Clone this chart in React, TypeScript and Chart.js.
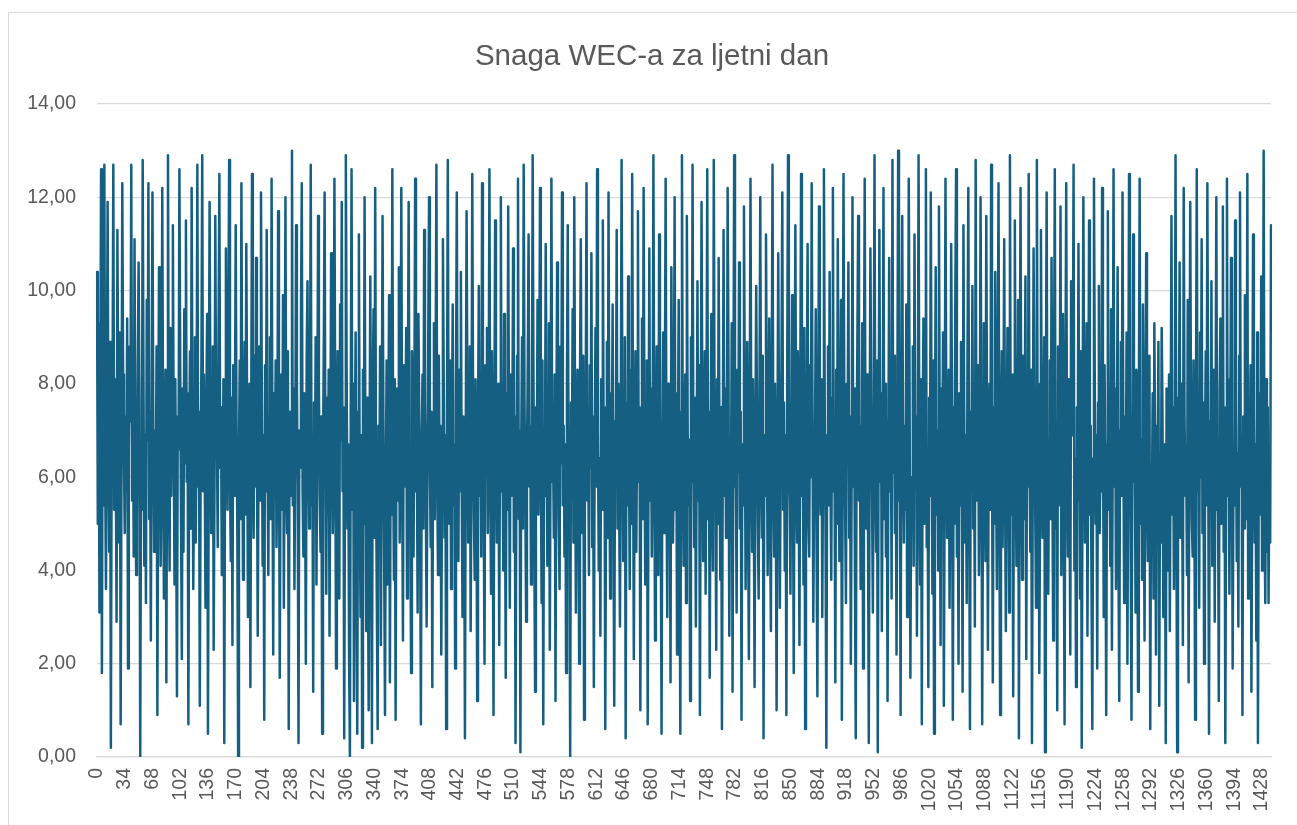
import React, { useEffect, useRef } from "react";
import { Chart, registerables } from "chart.js";

Chart.register(...registerables);

const TITLE = "Snaga WEC-a za ljetni dan";
const Y_TICKS = [0, 2, 4, 6, 8, 10, 12, 14];
const LABEL_STEP = 34;

const hour0 = [
  10.4, 5.0, 9.3, 3.1, 7.5, 12.6, 1.8, 8.6, 5.4, 12.7,
  6.2, 3.6, 7.4, 11.9, 6.8, 4.4, 8.9, 0.2, 6.8, 7.7,
  12.7, 5.3, 8.1, 6.4, 2.9, 11.3, 7.6, 4.6, 9.1, 0.7,
  6.1, 12.3, 8.2, 6.5, 4.8, 7.3, 5.7, 9.4, 1.9, 6.6,
  8.8, 7.2, 12.7, 5.5, 7.9, 4.3, 11.1, 6.2, 3.9, 5.0,
  8.4, 10.6, 7.7, 0.0, 6.3, 5.3, 12.8, 7.9, 4.1, 6.9,
];
const hour1 = [
  3.3, 9.8, 6.8, 12.3, 5.1, 7.4, 2.5, 8.3, 12.1, 6.9,
  4.4, 7.0, 5.2, 8.8, 0.9, 6.6, 10.5, 7.6, 4.1, 5.8,
  12.2, 7.1, 3.4, 6.2, 8.3, 1.6, 7.5, 12.9, 6.1, 4.0,
  9.2, 5.6, 7.7, 11.4, 6.9, 3.7, 8.1, 5.2, 1.3, 7.3,
  6.6, 12.6, 8.4, 5.0, 2.1, 7.9, 4.4, 9.6, 6.3, 11.5,
  5.9, 7.8, 0.7, 6.5, 8.7, 4.9, 12.2, 7.4, 3.6, 6.0,
];
const hour2 = [
  9.0, 4.6, 6.9, 12.7, 5.8, 7.4, 1.1, 6.0, 8.5, 12.9,
  5.7, 8.2, 6.3, 3.2, 7.4, 9.5, 0.5, 6.7, 11.9, 7.8,
  4.8, 6.2, 8.8, 2.3, 5.9, 11.6, 7.3, 6.8, 4.5, 9.1,
  12.5, 6.2, 7.5, 3.9, 5.6, 8.1, 0.3, 6.9, 10.9, 7.1,
  5.3, 9.3, 12.8, 6.0, 4.2, 7.7, 2.4, 8.4, 5.6, 6.7,
  11.4, 7.0, 4.9, 0.0, 6.6, 8.5, 5.1, 12.3, 7.2, 3.8,
];
const hour3 = [
  6.4, 8.9, 5.2, 11.0, 7.5, 3.0, 6.8, 8.0, 1.5, 7.1,
  12.5, 6.3, 4.7, 8.6, 5.8, 10.7, 7.0, 2.6, 6.2, 8.8,
  5.5, 12.1, 7.9, 4.1, 6.9, 0.8, 8.4, 5.7, 11.3, 6.6,
  3.9, 7.3, 9.0, 5.1, 12.4, 6.7, 2.2, 7.8, 5.9, 8.5,
  4.5, 6.1, 11.7, 7.6, 1.7, 6.4, 8.2, 5.3, 9.9, 3.2,
  7.1, 12.0, 6.0, 4.8, 8.7, 0.6, 6.9, 7.4, 5.6, 13.0,
];
const hour4 = [
  5.4, 7.9, 3.6, 6.6, 11.4, 8.1, 5.9, 0.3, 7.0, 6.2,
  9.4, 12.3, 5.7, 4.3, 7.8, 6.1, 2.0, 8.6, 10.2, 6.5,
  4.9, 7.2, 12.7, 5.4, 6.8, 1.4, 7.6, 5.1, 9.0, 3.7,
  6.9, 11.6, 8.0, 5.6, 4.4, 7.3, 0.5, 6.4, 8.9, 12.1,
  6.0, 3.5, 7.7, 5.2, 8.3, 2.6, 6.6, 10.8, 7.1, 4.8,
  5.9, 12.4, 7.4, 1.9, 6.3, 8.7, 5.5, 3.4, 9.7, 6.8,
];
const hour5 = [
  11.9, 5.7, 7.5, 0.4, 6.1, 12.9, 8.2, 4.9, 6.7, 2.1,
  0.0, 7.2, 12.6, 5.3, 8.0, 1.2, 6.5, 9.1, 4.0, 0.5,
  7.4, 11.2, 5.8, 3.0, 6.9, 0.2, 8.3, 5.0, 12.0, 6.4,
  2.7, 7.7, 4.4, 1.0, 6.2, 10.3, 5.6, 0.3, 7.9, 9.6,
  4.7, 12.2, 6.0, 3.3, 0.6, 7.1, 5.4, 8.8, 2.4, 6.6,
  11.6, 7.3, 4.2, 0.9, 5.9, 8.5, 3.7, 6.8, 9.9, 1.6,
];
const hour6 = [
  7.0, 5.2, 12.6, 6.4, 3.8, 8.1, 0.8, 6.7, 7.9, 5.5,
  10.5, 4.6, 7.3, 12.2, 6.0, 2.5, 8.4, 5.8, 6.9, 9.2,
  3.4, 7.5, 11.9, 6.2, 5.0, 1.8, 8.7, 6.5, 4.3, 7.8,
  12.4, 5.7, 6.9, 3.1, 9.5, 7.2, 5.3, 0.7, 6.6, 8.2,
  4.9, 11.3, 7.6, 5.6, 2.8, 6.1, 8.9, 12.0, 6.3, 4.5,
  7.4, 1.5, 6.8, 9.3, 5.1, 7.9, 12.7, 6.0, 3.9, 8.6,
];
const hour7 = [
  5.9, 7.1, 2.2, 6.4, 11.1, 8.0, 4.7, 6.9, 0.6, 7.5,
  12.8, 6.2, 5.0, 8.5, 3.6, 7.0, 9.7, 5.4, 6.7, 1.9,
  7.7, 12.1, 6.5, 4.2, 8.3, 5.7, 10.4, 6.0, 3.0, 7.3,
  5.8, 0.4, 6.8, 11.7, 7.9, 4.6, 6.2, 8.8, 2.7, 6.5,
  12.5, 7.4, 5.1, 3.8, 8.1, 6.6, 1.2, 7.0, 10.1, 5.6,
  6.9, 4.3, 12.3, 7.6, 5.3, 2.0, 8.4, 6.1, 9.2, 4.8,
];
const hour8 = [
  7.2, 12.6, 6.0, 3.5, 8.7, 5.9, 0.9, 6.8, 11.5, 7.4,
  4.6, 6.3, 8.0, 2.4, 7.1, 12.0, 5.7, 6.6, 4.0, 9.5,
  6.2, 1.7, 7.8, 5.3, 11.8, 6.9, 3.2, 8.2, 5.6, 6.5,
  10.9, 4.4, 7.3, 0.3, 6.0, 8.6, 12.4, 5.1, 7.0, 0.1,
  6.7, 9.0, 4.9, 12.7, 7.6, 5.5, 2.9, 6.3, 8.4, 11.2,
  5.8, 7.1, 3.7, 6.4, 12.9, 8.1, 4.5, 1.4, 7.5, 6.0,
];
const hour9 = [
  9.8, 5.2, 7.3, 12.2, 6.1, 3.3, 8.5, 0.7, 6.8, 5.6,
  11.0, 7.7, 4.1, 6.4, 9.3, 2.3, 7.0, 12.4, 5.9, 6.6,
  4.7, 8.2, 1.2, 6.9, 10.6, 7.4, 5.0, 3.6, 8.8, 6.3,
  12.1, 5.4, 7.1, 4.3, 6.7, 1.8, 8.0, 11.4, 6.2, 5.1,
  0.0, 7.6, 6.0, 9.6, 4.6, 12.0, 7.2, 3.1, 6.5, 8.3,
  5.7, 2.0, 7.9, 11.1, 6.4, 4.8, 8.6, 0.8, 6.1, 7.4,
];
const hour10 = [
  12.3, 5.5, 6.9, 3.9, 8.4, 6.2, 10.8, 4.5, 7.3, 1.5,
  6.6, 9.2, 5.8, 12.6, 7.0, 4.0, 6.4, 2.6, 8.1, 5.3,
  11.5, 6.8, 7.5, 0.6, 5.9, 8.9, 4.7, 12.1, 6.3, 3.4,
  7.8, 6.0, 9.7, 5.2, 1.1, 7.2, 6.5, 11.3, 4.9, 8.0,
  5.6, 2.8, 6.9, 12.8, 7.4, 4.2, 6.1, 9.0, 0.4, 7.6,
  5.4, 10.3, 6.7, 3.6, 8.3, 5.0, 12.5, 7.1, 2.1, 6.2,
];
const hour11 = [
  8.7, 4.4, 6.8, 11.7, 5.9, 7.5, 1.0, 6.3, 9.4, 5.1,
  12.2, 7.2, 3.7, 6.6, 8.5, 0.7, 6.0, 10.9, 5.5, 7.9,
  4.3, 6.4, 12.9, 7.0, 2.5, 5.8, 8.8, 6.1, 3.9, 11.2,
  7.3, 5.2, 0.5, 6.9, 9.1, 4.8, 7.6, 12.4, 6.2, 3.0,
  8.0, 5.7, 6.6, 1.6, 10.5, 7.1, 4.6, 6.3, 12.0, 5.3,
  7.8, 2.2, 6.5, 9.8, 5.0, 0.5, 7.4, 12.9, 6.7, 4.1,
];
const hour12 = [
  6.0, 8.2, 3.3, 11.6, 7.0, 5.4, 6.8, 1.2, 9.0, 5.9,
  12.7, 6.4, 4.5, 7.7, 2.8, 6.1, 10.2, 5.5, 8.4, 0.9,
  6.6, 11.9, 7.3, 4.2, 5.8, 8.7, 3.5, 6.9, 12.6, 5.1,
  7.4, 1.7, 6.3, 9.5, 5.7, 4.0, 12.8, 7.1, 6.2, 2.3,
  8.1, 5.0, 10.7, 6.7, 3.8, 7.5, 0.6, 6.4, 11.3, 5.6,
  7.9, 4.7, 6.0, 12.2, 8.6, 2.6, 6.8, 5.3, 9.3, 1.4,
];
const hour13 = [
  7.2, 12.9, 5.8, 6.5, 3.1, 8.3, 6.1, 10.6, 4.9, 7.4,
  0.8, 6.7, 5.4, 11.8, 7.9, 3.6, 6.3, 8.9, 5.2, 2.1,
  7.0, 12.4, 6.6, 4.4, 8.1, 5.9, 1.5, 6.8, 10.1, 7.3,
  5.0, 3.4, 7.7, 12.0, 6.2, 4.7, 8.6, 0.4, 6.9, 5.6,
  11.2, 7.5, 3.9, 6.4, 9.4, 5.1, 2.7, 7.8, 12.7, 6.0,
  4.3, 8.0, 5.7, 1.0, 6.6, 10.8, 7.1, 3.2, 6.3, 8.5,
];
const hour14 = [
  12.1, 5.3, 7.6, 4.0, 6.9, 0.9, 8.2, 12.9, 6.1, 5.5,
  3.5, 7.3, 9.9, 6.4, 1.8, 7.0, 11.4, 5.9, 4.6, 8.7,
  6.2, 2.4, 7.8, 12.5, 5.6, 6.8, 3.7, 9.2, 0.6, 6.5,
  7.4, 11.0, 5.0, 4.3, 8.4, 6.0, 12.3, 7.2, 2.9, 5.8,
  6.7, 9.6, 4.5, 1.3, 7.1, 11.8, 6.3, 5.2, 8.1, 3.0,
  6.6, 12.6, 7.5, 4.8, 0.2, 6.9, 8.8, 5.4, 10.4, 6.1,
];
const hour15 = [
  3.8, 7.7, 12.2, 5.7, 6.4, 1.6, 8.3, 5.0, 11.1, 7.0,
  4.2, 6.6, 9.8, 0.8, 6.2, 12.5, 7.5, 5.3, 3.3, 8.0,
  6.8, 10.6, 4.7, 7.3, 2.0, 6.0, 12.0, 5.8, 7.9, 4.0,
  0.4, 6.5, 8.9, 11.6, 5.5, 7.1, 3.6, 6.3, 9.3, 1.9,
  7.6, 12.4, 6.1, 4.9, 8.2, 5.2, 0.3, 6.7, 10.9, 7.4,
  5.6, 3.1, 7.2, 12.9, 6.0, 4.4, 8.5, 0.1, 6.8, 11.3,
];
const hour16 = [
  5.9, 7.8, 2.7, 6.4, 12.2, 5.1, 8.0, 4.3, 7.2, 1.2,
  6.5, 10.7, 5.7, 7.6, 3.4, 12.8, 6.1, 8.6, 4.8, 6.9,
  2.2, 7.4, 13.0, 5.5, 6.7, 0.9, 8.4, 11.6, 6.3, 4.6,
  7.1, 5.3, 9.7, 3.0, 6.8, 12.4, 7.9, 1.7, 6.0, 5.4,
  8.8, 4.1, 11.2, 6.6, 7.3, 2.6, 5.8, 12.9, 6.2, 3.7,
  8.1, 0.7, 6.9, 9.4, 5.0, 7.5, 12.6, 4.5, 6.4, 1.5,
];
const hour17 = [
  7.7, 5.6, 12.1, 6.8, 3.5, 8.5, 0.5, 6.3, 10.5, 5.2,
  7.0, 4.0, 11.8, 6.6, 2.4, 7.9, 5.7, 9.1, 1.1, 6.2,
  12.4, 7.3, 4.7, 6.0, 8.3, 3.2, 5.9, 11.0, 7.5, 0.8,
  6.7, 5.0, 9.6, 12.6, 4.3, 6.5, 2.0, 7.8, 5.4, 8.9,
  6.1, 1.4, 11.4, 7.2, 4.6, 6.9, 3.3, 8.6, 12.2, 5.8,
  0.6, 7.4, 6.3, 10.1, 4.9, 7.0, 2.8, 12.8, 5.5, 6.6,
];
const hour18 = [
  8.4, 3.9, 6.1, 12.0, 7.6, 0.7, 5.7, 9.3, 6.8, 4.2,
  11.6, 7.1, 2.3, 6.4, 8.0, 5.3, 12.7, 6.9, 1.6, 7.5,
  5.0, 10.4, 6.2, 3.6, 7.8, 12.3, 5.6, 0.9, 6.7, 8.7,
  4.5, 7.2, 11.1, 5.9, 2.7, 6.5, 9.2, 7.4, 3.1, 12.9,
  6.0, 5.2, 8.2, 1.3, 7.0, 11.5, 6.6, 4.1, 5.5, 9.8,
  0.4, 7.3, 12.2, 6.3, 3.8, 8.6, 5.1, 6.9, 10.3, 2.1,
];
const hour19 = [
  7.1, 5.8, 12.5, 6.5, 4.4, 8.3, 0.3, 6.2, 10.9, 7.6,
  5.3, 3.2, 12.8, 6.7, 8.0, 1.8, 5.6, 11.3, 7.0, 4.7,
  6.4, 9.0, 0.1, 7.3, 12.1, 5.9, 3.5, 6.8, 8.5, 5.1,
  10.7, 6.0, 2.5, 7.7, 12.6, 4.9, 6.3, 1.0, 8.8, 5.4,
  7.2, 11.8, 3.9, 6.6, 9.5, 5.0, 0.7, 7.9, 12.3, 6.1,
  4.3, 8.1, 5.7, 2.2, 10.2, 6.9, 7.4, 12.7, 4.0, 6.4,
];
const hour20 = [
  1.5, 7.5, 5.5, 11.0, 6.2, 3.4, 8.7, 0.2, 6.6, 12.0,
  7.8, 4.6, 5.9, 9.3, 2.6, 6.8, 11.5, 5.2, 7.1, 3.7,
  0.6, 6.4, 12.4, 8.0, 5.0, 6.9, 1.9, 7.6, 10.1, 4.8,
  6.3, 5.7, 12.2, 7.4, 3.0, 8.4, 6.0, 0.9, 6.7, 11.7,
  5.3, 7.2, 4.1, 9.6, 2.3, 6.5, 12.6, 5.8, 7.9, 3.6,
  6.1, 10.5, 4.4, 1.2, 7.0, 8.9, 5.6, 12.1, 6.8, 3.3,
];
const hour21 = [
  7.3, 5.4, 9.1, 2.0, 6.6, 12.5, 7.7, 4.5, 0.8, 6.2,
  11.2, 5.9, 7.0, 3.1, 8.3, 6.4, 1.4, 7.5, 12.4, 5.0,
  6.8, 3.8, 9.7, 6.1, 2.5, 7.2, 10.8, 5.6, 4.2, 6.9,
  8.6, 0.6, 6.0, 5.3, 7.8, 3.4, 9.3, 6.5, 2.2, 7.1,
  5.5, 8.9, 1.1, 6.3, 4.6, 9.2, 7.4, 3.0, 6.7, 5.8,
  0.3, 7.9, 6.2, 4.0, 8.2, 2.7, 6.8, 11.6, 5.2, 7.5,
];
const hour22 = [
  3.6, 6.9, 12.9, 5.1, 0.1, 7.7, 6.4, 10.6, 4.7, 8.0,
  6.1, 2.4, 12.2, 7.3, 5.6, 6.6, 3.9, 9.8, 1.6, 6.8,
  11.9, 7.1, 5.0, 4.3, 8.5, 6.2, 0.8, 7.4, 12.6, 5.7,
  6.5, 3.2, 9.1, 6.0, 11.1, 4.8, 7.6, 2.0, 6.3, 8.7,
  5.4, 12.3, 6.9, 0.5, 7.2, 5.9, 10.2, 4.1, 6.7, 8.3,
  2.9, 7.0, 12.0, 5.3, 6.4, 1.2, 7.8, 9.4, 5.0, 6.6,
];
const hour23 = [
  11.8, 4.4, 7.5, 0.3, 6.1, 12.4, 5.6, 8.1, 3.5, 6.8,
  10.7, 7.2, 1.9, 6.0, 5.4, 11.5, 7.7, 4.2, 6.5, 2.8,
  8.6, 12.1, 5.8, 6.9, 0.9, 7.3, 4.9, 9.9, 6.2, 5.1,
  12.5, 3.4, 7.0, 6.4, 8.4, 1.4, 5.9, 11.2, 7.4, 4.6,
  6.7, 2.5, 9.1, 0.3, 6.3, 7.8, 5.2, 10.3, 4.0, 6.6,
  13.0, 5.2, 3.3, 8.1, 4.4, 7.5, 3.3, 6.0, 4.6, 11.4,
];

const powerValues: number[] = [
  ...hour0, ...hour1, ...hour2, ...hour3, ...hour4, ...hour5,
  ...hour6, ...hour7, ...hour8, ...hour9, ...hour10, ...hour11,
  ...hour12, ...hour13, ...hour14, ...hour15, ...hour16, ...hour17,
  ...hour18, ...hour19, ...hour20, ...hour21, ...hour22, ...hour23,
];
const categories: string[] = powerValues.map((_, i) => String(i));

const TEXT = "#595959";
const GRID = "#d9d9d9";
const LINE = "#156082";
const FONT = '"Liberation Sans", Arial, sans-serif';

const titlePlugin = {
  id: "customTitle",
  afterDraw(chart: any) {
    const ctx = chart.ctx;
    ctx.save();
    ctx.font = `29.5px ${FONT}`;
    ctx.fillStyle = TEXT;
    ctx.textAlign = "center";
    ctx.textBaseline = "alphabetic";
    ctx.fillText(TITLE, 652, 65);
    ctx.restore();
  },
};

export default function App() {
  const ref = useRef<HTMLCanvasElement | null>(null);

  useEffect(() => {
    if (!ref.current) return;
    const chart = new Chart(ref.current, {
      type: "line",
      data: {
        labels: categories,
        datasets: [
          {
            data: powerValues,
            borderColor: LINE,
            borderWidth: 2.5,
            pointRadius: 0,
            pointHoverRadius: 0,
            tension: 0,
            fill: false,
            borderJoinStyle: "round",
            borderCapStyle: "round",
          },
        ],
      },
      options: {
        animation: false,
        responsive: false,
        maintainAspectRatio: false,
        events: [],
        layout: { padding: { left: 0, right: 26, top: 104, bottom: 0 } },
        plugins: {
          legend: { display: false },
          title: { display: false },
          tooltip: { enabled: false },
        },
        scales: {
          x: {
            type: "category",
            offset: false,
            grid: { display: false, drawTicks: false },
            border: { display: true, color: GRID, width: 1.3 },
            ticks: {
              autoSkip: false,
              minRotation: 90,
              maxRotation: 90,
              padding: 11,
              color: TEXT,
              font: { family: FONT, size: 19.5 },
              callback: (_v: any, i: number) =>
                i % LABEL_STEP === 0 ? categories[i] : null,
            },
            afterFit: (s: any) => {
              s.height = 68;
            },
          },
          y: {
            min: 0,
            max: 14,
            afterBuildTicks: (s: any) => {
              s.ticks = Y_TICKS.map((v) => ({ value: v }));
            },
            grid: { color: GRID, lineWidth: 1.3, drawTicks: false },
            border: { display: false },
            ticks: {
              padding: 21,
              color: TEXT,
              font: { family: FONT, size: 19.5 },
              callback: (v: any) => Number(v).toFixed(2).replace(".", ","),
            },
            afterFit: (s: any) => {
              s.width = 97;
            },
          },
        },
      },
      plugins: [titlePlugin],
    });
    return () => chart.destroy();
  }, []);

  return (
    <div
      style={{
        position: "absolute",
        left: 0,
        top: 0,
        width: 1297,
        height: 825,
        overflow: "hidden",
        background: "#fff",
      }}
    >
      <div
        style={{
          position: "absolute",
          left: 8,
          top: 12,
          width: 1320,
          height: 840,
          border: "1.5px solid #d9d9d9",
          boxSizing: "border-box",
        }}
      />
      <canvas
        ref={ref}
        width={1297}
        height={825}
        style={{ position: "absolute", left: 0, top: 0, width: 1297, height: 825 }}
      />
    </div>
  );
}
